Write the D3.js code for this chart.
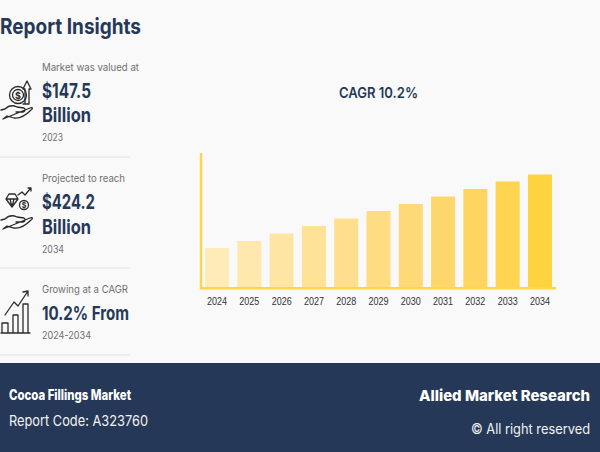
<!DOCTYPE html>
<html>
<head>
<meta charset="utf-8">
<script src="https://cdn.jsdelivr.net/npm/d3@7"></script>
<style>
  html, body { margin: 0; padding: 0; background: #f9f9f9; overflow: hidden; }
  text { font-family: Inter, "Open Sans", sans-serif; }
</style>
</head>
<body>
<div id="chart"></div>
<script>
// values (no value axis in the original, so relative units)
var years = ['2024', '2025', '2026', '2027', '2028', '2029', '2030', '2031', '2032', '2033', '2034'];
var values = [39, 46, 53.5, 61, 68.5, 76, 83, 90.5, 98, 105.5, 112.5];
var barColors = ['#feebb8', '#fee8ad', '#fee5a3', '#fee298', '#fedf8d', '#fedc82', '#fed977', '#fed76c', '#fed561', '#fed450', '#ffd23f'];

var navy = '#253858';
var grey = '#6f6f6f';

var svg = d3.select('#chart').append('svg').attr('width', 600).attr('height', 452);
svg.append('rect').attr('width', 600).attr('height', 452).attr('fill', '#f9f9f9');

// left column + title text: [string, x, baseline, size, weight, colour, width]
var sideText = [
    ['Report Insights', 0, 34, 22, 700, navy, 141],
    ['Market was valued at', 42, 71, 10.5, 400, grey, 97],
    ['$147.5', 42, 98, 20, 700, navy, 49],
    ['Billion', 42, 122, 20, 700, navy, 49],
    ['2023', 42, 141, 10.5, 400, grey, 21],
    ['Projected to reach', 42, 182, 10.5, 400, grey, 83],
    ['$424.2', 42, 209, 20, 700, navy, 53],
    ['Billion', 42, 234, 20, 700, navy, 49],
    ['2034', 42, 253, 10.5, 400, grey, 22],
    ['Growing at a CAGR', 42, 293, 10.5, 400, grey, 86],
    ['10.2% From', 42, 320, 19, 700, navy, 87],
    ['2024-2034', 42, 339, 10.5, 400, grey, 49],
    ['CAGR 10.2%', 339, 98, 15, 600, navy, 79]
];

function addText(d) {
    svg.append('text')
        .attr('x', d[1]).attr('y', d[2])
        .attr('font-size', d[3]).attr('font-weight', d[4])
        .attr('fill', d[5])
        .attr('textLength', d[6]).attr('lengthAdjust', 'spacingAndGlyphs')
        .text(d[0]);
}
sideText.forEach(addText);

[157, 268, 355].forEach(function(y){
    svg.append('line').attr('x1', 0).attr('x2', 130).attr('y1', y).attr('y2', y)
        .attr('stroke', '#e8e8e8').attr('stroke-width', 1.5);
});

// icons, rough line drawings
function icon(tx, ty) {
    return svg.append('g').attr('transform', 'translate(' + tx + ',' + ty + ')')
        .attr('fill', 'none').attr('stroke', '#2b2b2b').attr('stroke-width', 1.3)
        .attr('stroke-linejoin', 'round').attr('stroke-linecap', 'round');
}
var handPath = 'M1 27 L5 26 C9 22 13 22 17 24 L24 25 C26 26 25 29 23 29 L16 29 M25 27 L30 25 C33 24 33 26 31 27 C26 32 20 36 14 35 L7 33 L3 36 Z';

var i1 = icon(0, 83);
i1.append('path').attr('d', handPath);
i1.append('circle').attr('cx', 18).attr('cy', 12).attr('r', 8.5);
i1.append('circle').attr('cx', 18).attr('cy', 12).attr('r', 5.5);
i1.append('path').attr('d', 'M23 21 L29 21 L29 6 L31 6 L27 -2 L23 6 L25 6 L25 20');
i1.append('text').attr('x', 18).attr('y', 15.5).attr('text-anchor', 'middle')
    .attr('font-size', 9).attr('font-weight', 700).attr('fill', '#2b2b2b').attr('stroke', 'none').text('$');

var i2 = icon(0, 193);
i2.append('path').attr('d', handPath);
i2.append('path').attr('d', 'M6 6 L9 1 L15 1 L18 6 L12 14 Z M6 6 L18 6 M10 6 L12 14 L14 6');
i2.append('circle').attr('cx', 24).attr('cy', 12).attr('r', 4.5);
i2.append('path').attr('d', 'M18 2 L22 -1 L25 2 L30 -4 M28 -5 L31 -5 L31 -2');
i2.append('text').attr('x', 24).attr('y', 15).attr('text-anchor', 'middle')
    .attr('font-size', 7).attr('font-weight', 700).attr('fill', '#2b2b2b').attr('stroke', 'none').text('$');

var i3 = icon(0, 290);
i3.append('path').attr('d', 'M1 43 L30 43 M2 43 L2 33 L8 33 L8 43 M13 43 L13 25 L18 25 L18 43 M23 43 L23 14 L28 14 L28 43');
i3.append('path').attr('d', 'M5 25 L14 12 L18 16 L28 1 M23 2 L28 1 L28 6');

// chart
var x = d3.scaleBand().domain(years).range([201, 556]).paddingInner(0.256).paddingOuter(0.125);
var y = d3.scaleLinear().domain([0, 134]).range([287, 153]);
var axisColor = '#ffd54a';

svg.selectAll('rect.bar').data(values).enter().append('rect')
    .attr('class', 'bar')
    .attr('x', function(d, i){ return x(years[i]); })
    .attr('y', function(d){ return y(d); })
    .attr('width', x.bandwidth())
    .attr('height', function(d){ return y(0) - y(d); })
    .attr('fill', function(d, i){ return barColors[i]; });

// y pixels count down
svg.append('line').attr('x1', x.range()[0]).attr('x2', x.range()[0]).attr('y1', y.range()[1]).attr('y2', y(0) + 2.5)
    .attr('stroke', axisColor).attr('stroke-width', 2.5);
svg.append('line').attr('x1', x.range()[0] - 1).attr('x2', x.range()[1]).attr('y1', y(0) + 1.2).attr('y2', y(0) + 1.2)
    .attr('stroke', axisColor).attr('stroke-width', 2.5);

var xAxis = svg.append('g').attr('transform', 'translate(0,' + (y(0) + 1) + ')')
    .call(d3.axisBottom(x).tickSize(0).tickPadding(10));
xAxis.select('.domain').remove();
xAxis.selectAll('text')
    .style('font-family', '"Liberation Sans", Arial, sans-serif')
    .attr('font-size', 10.5).attr('fill', '#333')
    .attr('textLength', 20).attr('lengthAdjust', 'spacingAndGlyphs');

// footer band
svg.append('rect').attr('x', 0).attr('y', 363).attr('width', 600).attr('height', 89).attr('fill', navy);

var footerText = [
    ['Cocoa Fillings Market', 9, 400, 14, 800, '#fff', 122],
    ['Report Code: A323760', 9, 426, 15, 400, '#f2f2f2', 139],
    ['Allied Market Research', 419, 401, 15, 800, '#fff', 171],
    ['\u00a9 All right reserved', 471, 434, 13.8, 400, '#f2f2f2', 119]
];
footerText.forEach(addText);
</script>
</body>
</html>
